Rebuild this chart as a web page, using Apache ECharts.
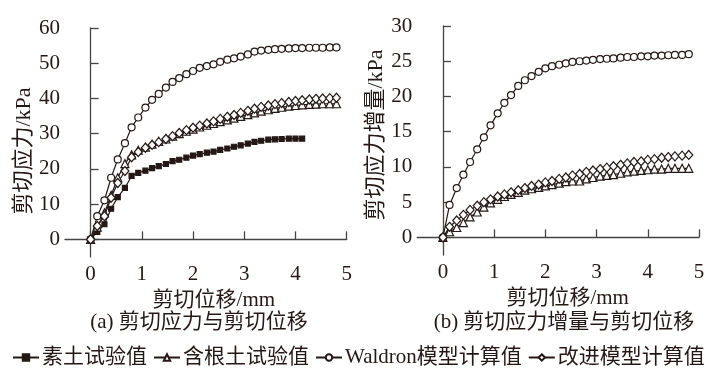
<!DOCTYPE html>
<html><head><meta charset="utf-8">
<script src="https://cdn.jsdelivr.net/npm/echarts@6/dist/echarts.min.js"></script>
<style>html,body{margin:0;padding:0;background:#fff}#c{width:722px;height:378px}</style>
</head><body><div id="c"></div>
<script>
// shear displacement (mm)
const disp = [0,0.13,0.27,0.4,0.53,0.67,0.8,0.93,1.07,1.2,1.33,1.47,1.6,1.73,1.87,2.0,2.13,2.27,2.4,2.53,2.67,2.8,2.93,3.07,3.2,3.33,3.47,3.6,3.73,3.87,4.0,4.13,4.27,4.4,4.53,4.67,4.8];
// (a) shear stress (kPa)
const aSoil = [0,2.1,4.3,8.7,12.0,14.6,18.0,18.9,19.5,20.2,20.8,21.4,22.2,22.6,23.2,23.8,24.2,24.6,24.9,25.4,25.8,26.3,26.7,27.2,27.7,28.0,28.3,28.4,28.5,28.6,28.6,28.6];
const aRoot = [0,3.5,7.5,12.5,17.5,21.5,24.0,25.3,26.2,27.0,27.8,28.5,29.3,30.0,30.7,31.3,31.9,32.4,32.9,33.4,33.9,34.4,34.9,35.4,35.9,36.4,36.8,37.2,37.5,37.8,38.0,38.2,38.3,38.4,38.5,38.5,38.5];
const aWaldron = [0,6.6,11.1,17.5,22.7,27.3,31.8,34.6,37.4,39.6,41.3,43.1,44.7,45.8,46.9,47.8,48.7,49.2,49.7,50.4,51.0,51.4,51.9,52.5,53.3,53.6,53.8,54.0,54.1,54.2,54.3,54.3,54.4,54.4,54.4,54.5,54.5];
const aImproved = [0,3.8,6.6,11.8,16.0,19.4,23.3,24.8,26.0,26.8,27.6,28.5,29.3,30.2,31.0,31.7,32.3,32.9,33.5,34.2,34.8,35.3,35.9,36.5,37.1,37.6,38.0,38.4,38.7,39.0,39.3,39.5,39.7,39.9,40.0,40.1,40.2];
// (b) shear stress increment (kPa)
const bRoot = [0,0.8,1.4,2.1,2.9,3.6,4.3,4.9,5.4,5.8,6.1,6.4,6.7,6.9,7.1,7.3,7.5,7.7,7.9,8.0,8.0,8.3,8.5,8.7,8.8,8.9,9.1,9.3,9.4,9.5,9.6,9.7,9.7,9.8,9.8,9.8,9.8];
const bWaldron = [0,4.6,7.0,8.9,10.7,12.5,14.2,15.9,17.6,19.1,20.2,21.5,22.3,22.9,23.5,24.0,24.3,24.5,24.7,24.9,25.0,25.1,25.2,25.3,25.35,25.4,25.5,25.6,25.6,25.7,25.7,25.8,25.8,25.85,25.9,25.9,26.0];
const bImproved = [0,1.5,2.4,3.2,3.9,4.5,5.0,5.4,5.8,6.1,6.4,6.7,7.0,7.3,7.5,7.8,8.0,8.3,8.5,8.8,9.0,9.3,9.5,9.7,9.9,10.1,10.3,10.5,10.7,10.8,11.0,11.1,11.3,11.4,11.5,11.6,11.7];
// tick labels
const xTicks = [0,1,2,3,4,5];
const yTicksA = [0,10,20,30,40,50,60];
const yTicksB = [0,5,10,15,20,25,30];
const names = ['素土试验值','含根土试验值','Waldron模型计算值','改进模型计算值'];
const xName = '剪切位移/mm';
const yNameA = '剪切应力/kPa';
const yNameB = '剪切应力增量/kPa';
const subA = '(a) 剪切应力与剪切位移';
const subB = '(b) 剪切应力增量与剪切位移';

const INK = '#231815';
const AX = '#444';
const FONT = '"Liberation Serif","Noto Sans CJK SC",serif';
const pairs = vals => vals.map((v, i) => [disp[i], v]);

function xAxis(gi, pad) {
  return {
    type: 'value', gridIndex: gi, min: -0.5, max: 5,
    name: xName, nameLocation: 'middle', nameGap: 30,
    nameTextStyle: {fontFamily: FONT, fontSize: 21, color: INK, padding: [0,0,0,pad]},
    axisLine: {show: true, lineStyle: {color: AX, width: 1.3}},
    axisTick: {show: true, inside: true, length: 8, customValues: xTicks, lineStyle: {color: AX, width: 1.3}},
    axisLabel: {customValues: xTicks, margin: 7, fontFamily: FONT, fontSize: 21, color: INK},
    splitLine: {show: false}
  };
}
function yAxis(gi, min, max, ticks, name, gap, pad) {
  return {
    type: 'value', gridIndex: gi, min: min, max: max,
    name: name, nameLocation: 'middle', nameGap: gap,
    nameTextStyle: {fontFamily: FONT, fontSize: 22, color: INK, padding: pad},
    axisLine: {show: true, lineStyle: {color: AX, width: 1.3}},
    axisTick: {show: true, inside: true, length: 8, customValues: ticks, lineStyle: {color: AX, width: 1.3}},
    axisLabel: {customValues: ticks, margin: 5, fontFamily: FONT, fontSize: 21, color: INK},
    splitLine: {show: false}
  };
}
function ser(name, gi, vals, symbol, size, filled) {
  return {
    type: 'line', name: name, xAxisIndex: gi, yAxisIndex: gi,
    data: pairs(vals), symbol: symbol, symbolSize: size, showSymbol: true,
    lineStyle: {color: INK, width: 1.2},
    itemStyle: {color: filled ? INK : '#fff', borderColor: INK, borderWidth: 1.2},
    emphasis: {disabled: true}, z: 3
  };
}

const chart = echarts.init(document.getElementById('c'), null, {renderer: 'canvas'});
chart.setOption({
  animation: false,
  backgroundColor: '#fff',
  title: [
    {text: subA, left: 199, top: 312, textAlign: 'center', padding: 0,
     textStyle: {fontFamily: FONT, fontSize: 21, fontWeight: 'normal', color: INK}},
    {text: subB, left: 564, top: 312, textAlign: 'center', padding: 0,
     textStyle: {fontFamily: FONT, fontSize: 21, fontWeight: 'normal', color: INK}}
  ],
  legend: {
    data: names, left: 12, top: 347, padding: 0, itemGap: 6, itemWidth: 26, itemHeight: 8,
    textStyle: {fontFamily: FONT, fontSize: 21, color: INK, padding: [0,0,0,-2]}
  },
  grid: [
    {left: 65, top: 28, width: 281.7, height: 229},
    {left: 417.3, top: 26, width: 281.7, height: 229}
  ],
  xAxis: [xAxis(0, 16), xAxis(1, 19)],
  yAxis: [
    yAxis(0, -5, 60, yTicksA, yNameA, 30, [0,17,0,0]),
    yAxis(1, -2.5, 30, yTicksB, yNameB, 24, [0,0,0,11])
  ],
  series: [
    ser(names[0], 0, aSoil, 'rect', 5, true),
    ser(names[1], 0, aRoot, 'triangle', 8, false),
    ser(names[2], 0, aWaldron, 'circle', 7, false),
    ser(names[3], 0, aImproved, 'diamond', [8,9], false),
    ser(names[1], 1, bRoot, 'triangle', 8, false),
    ser(names[2], 1, bWaldron, 'circle', 7, false),
    ser(names[3], 1, bImproved, 'diamond', [8,9], false)
  ]
});
</script></body></html>
